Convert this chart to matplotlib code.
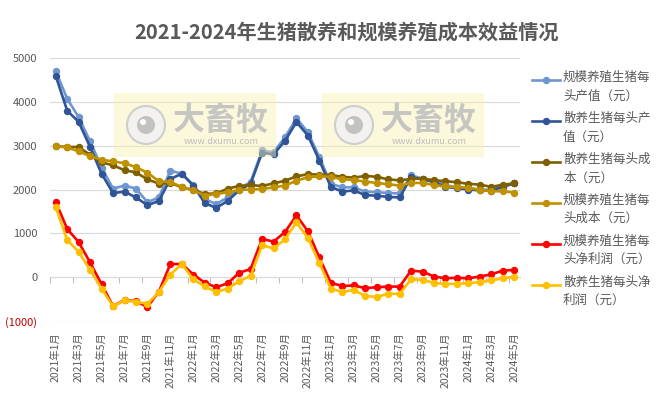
import matplotlib
matplotlib.use("Agg")
import matplotlib.pyplot as plt
from matplotlib.lines import Line2D
from matplotlib.patches import Rectangle, Ellipse

plt.rcParams['font.family'] = ['Noto Sans CJK SC', 'DejaVu Sans']

# 2021年1月 .. 2024年5月, 41 months
months = [f"{y}年{m}月" for y in (2021, 2022, 2023, 2024) for m in range(1, 13)][:41]

scale_value = [4700, 4070, 3650, 3100, 2500, 2020, 2090, 2020, 1710, 1820, 2430, 2360,
               2100, 1780, 1670, 1820, 2020, 2170, 2890, 2850, 3190, 3625, 3305, 2735,
               2130, 2050, 2050, 1950, 1940, 1920, 1910, 2320, 2250, 2200, 2100, 2050,
               2030, 2000, 1990, 2080, 2140]
free_value = [4590, 3800, 3540, 2970, 2360, 1920, 1950, 1820, 1640, 1740, 2240, 2360,
              2090, 1690, 1580, 1740, 1980, 2130, 2840, 2800, 3110, 3540, 3230, 2660,
              2060, 1950, 1980, 1870, 1860, 1830, 1820, 2280, 2230, 2170, 2060, 2030,
              2000, 1980, 1970, 2060, 2140]
free_cost = [2990, 2970, 2970, 2790, 2620, 2550, 2440, 2390, 2230, 2135, 2150, 2050,
             1990, 1900, 1910, 2020, 2080, 2100, 2080, 2140, 2200, 2300, 2350, 2340,
             2330, 2290, 2270, 2310, 2290, 2230, 2210, 2240, 2250, 2210, 2190, 2165,
             2130, 2110, 2060, 2110, 2140]
scale_cost = [2990, 2960, 2870, 2760, 2680, 2640, 2600, 2510, 2380, 2190, 2170, 2060,
              1980, 1860, 1900, 1935, 1990, 2000, 2010, 2050, 2090, 2200, 2280, 2300,
              2290, 2230, 2220, 2180, 2150, 2120, 2090, 2150, 2150, 2100, 2070, 2050,
              2040, 1990, 1960, 1960, 1930]
scale_profit = [1720, 1100, 800, 335, -160, -660, -520, -550, -680, -330, 300, 300,
                60, -125, -230, -140, 100, 185, 875, 810, 1030, 1410, 1045, 450,
                -130, -200, -190, -250, -230, -215, -215, 150, 125, 15, -25, -15,
                -25, 15, 65, 150, 165]
free_profit = [1600, 850, 580, 160, -260, -665, -530, -560, -610, -340, 60, 300,
               -50, -210, -340, -260, -95, 30, 730, 655, 865, 1250, 890, 320,
               -260, -340, -290, -430, -450, -380, -380, -50, -60, -130, -160, -150,
               -140, -110, -70, -30, 15]

series = [
    ("规模养殖生猪每\n头产值（元）", scale_value, "#6F96D1"),
    ("散养生猪每头产\n值（元）", free_value, "#2F5597"),
    ("散养生猪每头成\n本（元）", free_cost, "#7F6000"),
    ("规模养殖生猪每\n头成本（元）", scale_cost, "#BF9000"),
    ("规模养殖生猪每\n头净利润（元）", scale_profit, "#FF0000"),
    ("散养生猪每头净\n利润（元）", free_profit, "#FFC000"),
]

W, H = 666, 397
fig = plt.figure(figsize=(W / 100, H / 100), dpi=100)
ax = fig.add_axes([50 / W, 1 - 321 / H, 470 / W, 263 / H])

x = list(range(len(months)))
for label, vals, col in series:
    ax.plot(x, vals, color=col, lw=1.9, marker='o', ms=4.3, zorder=3)

ax.set_xlim(-0.5, len(months) - 0.5)
ax.set_ylim(-1000, 5000)
ax.set_yticks(range(-1000, 5001, 1000))
ax.set_yticklabels(["(1000)"] + [str(v) for v in range(0, 5001, 1000)])
ax.tick_params(axis='y', length=0, pad=9, labelsize=8, labelcolor="#595959")
ax.get_yticklabels()[0].set_color("#C00000")
ax.grid(axis='y', color="#D9D9D9", lw=0.8)
ax.set_axisbelow(True)
for s in ax.spines.values():
    s.set_visible(False)

ax.set_xticks(x[::2])
ax.set_xticklabels(months[::2], rotation=90, fontsize=7.5, color="#595959")
ax.tick_params(axis='x', length=0, pad=8)

# category axis line crossing at 0
sec = ax.secondary_xaxis(1 / 6)
sec.set_xticks([i - 0.5 for i in range(0, len(months) + 1, 2)])
sec.set_xticklabels([])
sec.tick_params(axis='x', direction='out', length=4, color="#BFBFBF")
sec.spines['bottom'].set_color("#D0D0D0")
sec.spines['bottom'].set_linewidth(0.8)

fig.text(347 / W, 1 - 32 / H, "2021-2024年生猪散养和规模养殖成本效益情况",
         ha='center', va='center', fontsize=14.5, fontweight='bold', color="#595959")

# legend on the right, line aligned with first text row
for i, (label, vals, col) in enumerate(series):
    yy = 1 - (80 + 40.9 * i) / H
    fig.add_artist(Line2D([532 / W, 560 / W], [yy, yy], color=col, lw=1.9,
                          transform=fig.transFigure))
    fig.add_artist(Line2D([546 / W], [yy], color=col, marker='o', ms=4.3,
                          transform=fig.transFigure))
    fig.text(563 / W, yy + 9 / H, label, ha='left', va='top', fontsize=9,
             color="#595959", linespacing=1.55)

# dxumu watermarks
def px(xp, yp):
    return xp / W, 1 - yp / H

def disc(cx, cy, r, **kw):
    fig.add_artist(Ellipse(px(cx, cy), 2 * r / W, 2 * r / H,
                           transform=fig.transFigure, **kw))

for x0 in (114, 322):
    fig.add_artist(Rectangle(px(x0, 157), 162 / W, 64 / H, transform=fig.transFigure,
                             color="#F7F0B0", alpha=0.45, lw=0, zorder=5))
    disc(x0 + 32, 125, 19, facecolor="#F2F2F2", edgecolor="#C8C8C8", lw=1.5,
         alpha=0.85, zorder=6)
    disc(x0 + 32, 125, 9, facecolor="#BDBDBD", lw=0, alpha=0.9, zorder=7)
    disc(x0 + 29, 122, 3, facecolor="white", lw=0, zorder=8)
    fig.text(*px(x0 + 107, 121), "大畜牧", ha='center', va='center', fontsize=23,
             fontweight='bold', color="#BDBDBD", alpha=0.85, zorder=6)
    fig.text(*px(x0 + 107, 141), "www.dxumu.com", ha='center', va='center',
             fontsize=6.5, color="#BDBDBD", zorder=6)

fig.savefig("out.png", dpi=100)
